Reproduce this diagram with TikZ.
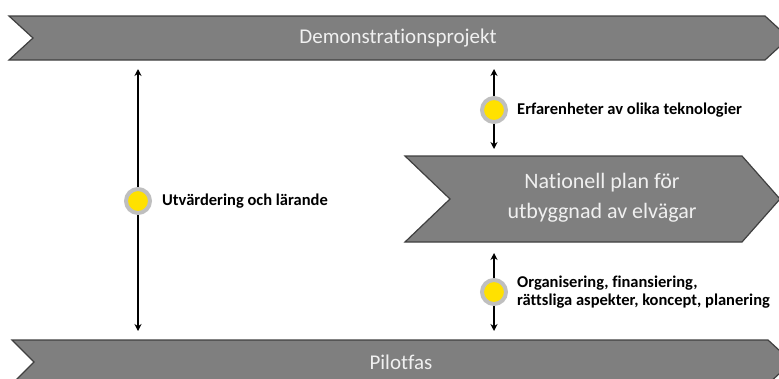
\documentclass[tikz,border=0pt]{standalone}
\usepackage{fontspec}
\setmainfont{Carlito}[Ligatures={NoCommon,NoRare}]
\usetikzlibrary{arrows.meta,positioning}
\definecolor{bandgray}{HTML}{7F7F7F}
\definecolor{banddark}{HTML}{404040}
\definecolor{dotyellow}{HTML}{FFE100}
\definecolor{dotring}{HTML}{BFBFBF}

\begin{document}
\begin{tikzpicture}[x=1pt,y=-1pt,
	band/.style={fill=bandgray,draw=banddark,line width=1.2pt,line join=miter},
	bandtext/.style={text=white!94!black,font=\fontsize{21}{24}\selectfont},
	dot/.style={circle,fill=dotyellow,draw=dotring,line width=4pt,minimum size=24pt,inner sep=0pt},
	notetext/.style={font=\bfseries\fontsize{16.5}{18}\selectfont,inner sep=0pt,align=left},
	twoway/.style={{Stealth[length=7pt,width=7pt]}-{Stealth[length=7pt,width=7pt]},line width=1.6pt}]
	\useasboundingbox (0,0) rectangle (779,378);
	\clip (0,0) rectangle (779,378);
	% phase bands
	\draw[band] (9,16) -- (765,16) -- (789,38) -- (765,60) -- (9,60) -- (33,38) -- cycle;
	\node[bandtext] (demo) at (398,38) {Demonstrationsprojekt};
	\draw[band] (12,340) -- (768,340) -- (792,362) -- (768,384) -- (12,384) -- (34,362) -- cycle;
	\node[bandtext] (pilot) at (401,362) {Pilotfas};
	% national plan
	\draw[band] (405,156) -- (742,156) -- (780,199) -- (742,242) -- (405,242) -- (450,199) -- cycle;
	\node[bandtext,font=\fontsize{22}{30}\selectfont,align=center] (plan) at (602,198) {Nationell plan för\\utbyggnad av elvägar};
	% two-way links
	\coordinate (eval-top) at (138,69);
	\coordinate (eval-bot) at (138,331);
	\coordinate (tech-top) at (494,69);
	\coordinate (tech-bot) at (494,149);
	\coordinate (org-top) at (494,253);
	\coordinate (org-bot) at (494,331);
	\draw[twoway] (eval-top) -- (eval-bot);
	\draw[twoway] (tech-top) -- (tech-bot);
	\draw[twoway] (org-top) -- (org-bot);
	\node[dot] (eval) at (138,201) {};
	\node[dot] (tech) at (494,110) {};
	\node[dot] (org) at (494,292) {};
	\node[notetext,right=10pt of eval] (eval-txt) {Utvärdering och lärande};
	\node[notetext,right=9pt of tech] (tech-txt) {Erfarenheter av olika teknologier};
	\node[notetext,right=9pt of org] (org-txt) {Organisering, finansiering,\\rättsliga aspekter, koncept, planering};
\end{tikzpicture}
\end{document}
